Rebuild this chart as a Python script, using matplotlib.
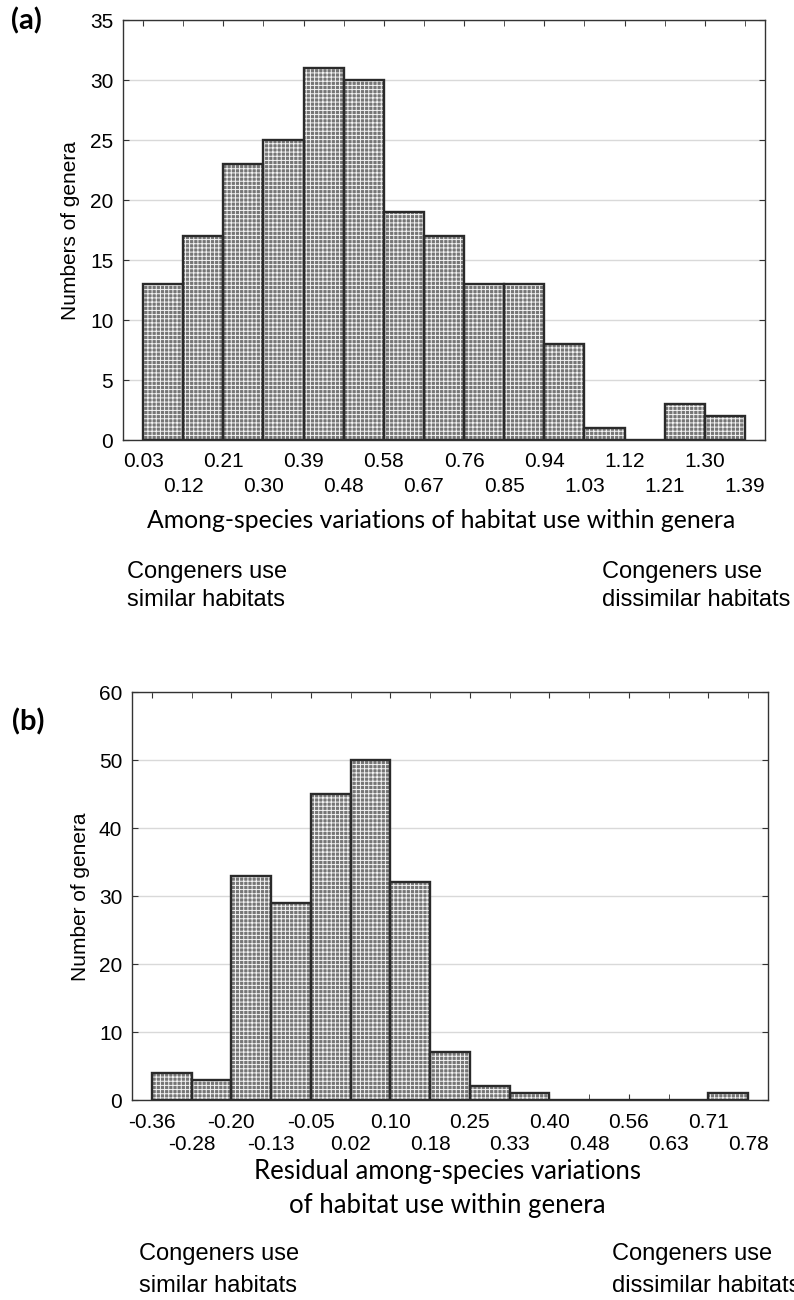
import numpy as np
import matplotlib
matplotlib.use("Agg")
import matplotlib.pyplot as plt

# ---------------- data ----------------
edges_a = ["0.03", "0.12", "0.21", "0.30", "0.39", "0.48", "0.58", "0.67",
           "0.76", "0.85", "0.94", "1.03", "1.12", "1.21", "1.30", "1.39"]
counts_a = [13, 17, 23, 25, 31, 30, 19, 17, 13, 13, 8, 1, 0, 3, 2]

edges_b = ["-0.36", "-0.28", "-0.20", "-0.13", "-0.05", "0.02", "0.10", "0.18",
           "0.25", "0.33", "0.40", "0.48", "0.56", "0.63", "0.71", "0.78"]
counts_b = [4, 3, 33, 29, 45, 50, 32, 7, 2, 1, 0, 0, 0, 0, 1]

yticks_a = [0, 5, 10, 15, 20, 25, 30, 35]
yticks_b = [0, 10, 20, 30, 40, 50, 60]

ylabel_a = "Numbers of genera"
ylabel_b = "Number of genera"
xlabel_a = "Among-species variations of habitat use within genera"
xlabel_b = "Residual among-species variations\nof habitat use within genera"
note_left = "Congeners use\nsimilar habitats"
note_right = "Congeners use\ndissimilar habitats"

# ---------------- style ----------------
W, H = 794, 1300
ARIAL = "Liberation Sans"
CALIBRI = "Lato"
plt.rcParams["hatch.linewidth"] = 0.7

fig = plt.figure(figsize=(W / 100, H / 100), dpi=100)


def px(x, y):
    return x / W, 1 - y / H


def panel(ax, edges, counts, yticks, pad_pt, row_gap_pt):
    n = len(counts)
    x = np.arange(n)
    ax.set_axisbelow(True)
    ax.grid(axis="y", color="#d9d9d9", lw=1.0)
    ax.bar(x, counts, width=1.0, align="edge", color="#767676",
           hatch="++++", edgecolor="#f4f4f4", lw=0, zorder=2)
    ax.bar(x, counts, width=1.0, align="edge", fill=False,
           edgecolor="#2a2a2a", lw=1.7, zorder=3)
    ax.set_xlim(-0.5, n + 0.5)
    ax.set_ylim(yticks[0], yticks[-1])
    ax.set_yticks(yticks)
    ax.set_yticklabels([str(v) for v in yticks], fontfamily=ARIAL, fontsize=15)
    pos = np.arange(len(edges))
    ax.set_xticks(pos[::2])
    ax.set_xticklabels(edges[::2], fontfamily=ARIAL, fontsize=15)
    ax.set_xticks(pos[1::2], minor=True)
    ax.set_xticklabels(edges[1::2], minor=True, fontfamily=ARIAL, fontsize=15)
    ax.tick_params(axis="both", which="both", direction="in", length=4,
                   color="#333333", top=True, right=True)
    ax.tick_params(axis="x", which="major", pad=pad_pt)
    ax.tick_params(axis="x", which="minor", pad=pad_pt + row_gap_pt)
    ax.tick_params(axis="y", pad=7)
    for s in ax.spines.values():
        s.set_color("#333333")
        s.set_linewidth(1.0)


ax1 = fig.add_axes([123 / W, 1 - 440 / H, (765 - 123) / W, 420 / H])
panel(ax1, edges_a, counts_a, yticks_a, 8.5, 18)
ax2 = fig.add_axes([132 / W, 1 - 1100 / H, (768 - 132) / W, 408 / H])
panel(ax2, edges_b, counts_b, yticks_b, 9, 16.5)

# y labels
fig.text(*px(70, 231), ylabel_a, rotation=90, ha="center", va="center",
         fontfamily=ARIAL, fontsize=15)
fig.text(*px(81, 897), ylabel_b, rotation=90, ha="center", va="center",
         fontfamily=ARIAL, fontsize=15)

# panel letters
fig.text(*px(26, 21), "(a)", ha="center", va="center", fontfamily=CALIBRI,
         fontweight="bold", fontsize=21)
fig.text(*px(28, 722), "(b)", ha="center", va="center", fontfamily=CALIBRI,
         fontweight="bold", fontsize=21)

# x labels
fig.text(*px(441, 521), xlabel_a, ha="center", va="center", fontfamily=CALIBRI,
         fontsize=17.8)
fig.text(*px(447, 1189), xlabel_b, ha="center", va="center", fontfamily=CALIBRI,
         fontsize=18.5, linespacing=1.45)

# notes
fig.text(*px(127, 586), note_left, ha="left", va="center", fontfamily=ARIAL,
         fontsize=17, linespacing=1.4)
fig.text(*px(602, 586), note_right, ha="left", va="center", fontfamily=ARIAL,
         fontsize=17, linespacing=1.4)
fig.text(*px(139, 1270), note_left, ha="left", va="center", fontfamily=ARIAL,
         fontsize=17, linespacing=1.55)
fig.text(*px(612, 1270), note_right, ha="left", va="center", fontfamily=ARIAL,
         fontsize=17, linespacing=1.55)

fig.savefig("out.png", dpi=100)
